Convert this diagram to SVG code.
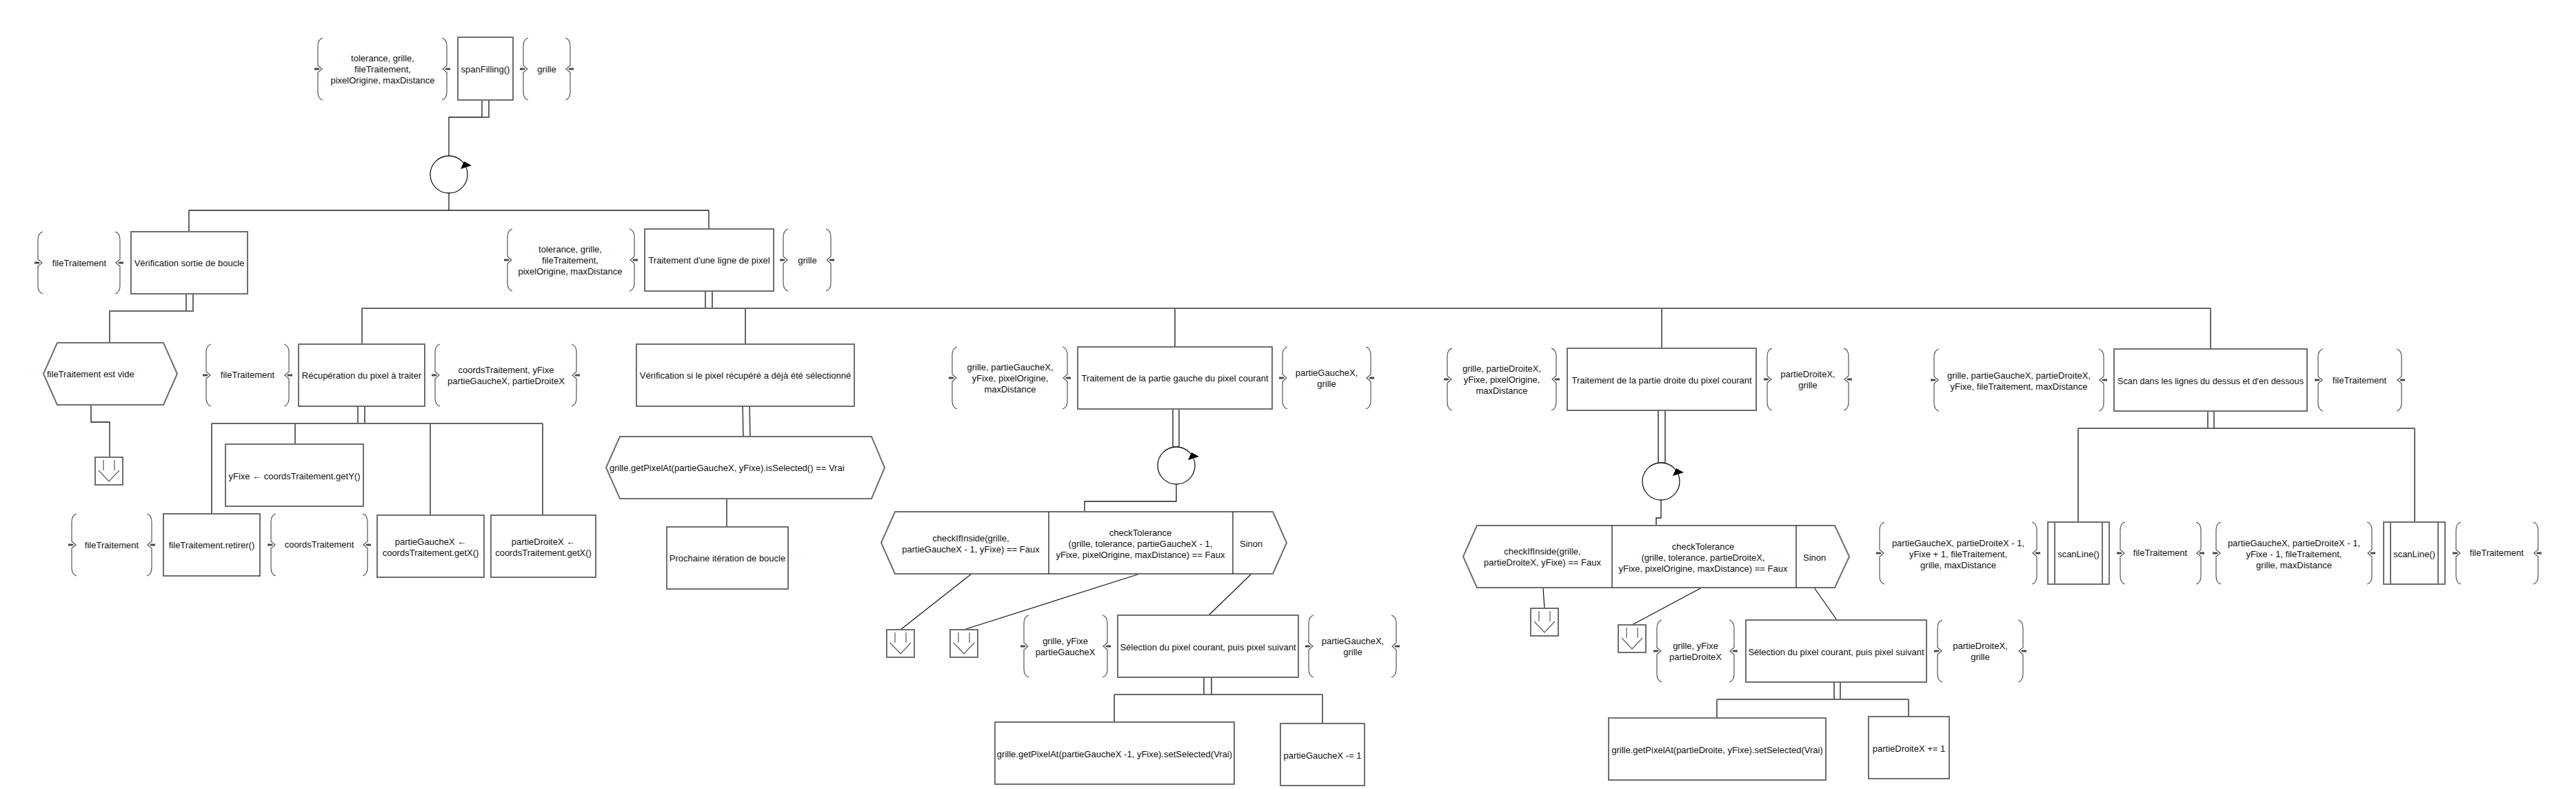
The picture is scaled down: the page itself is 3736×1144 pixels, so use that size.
<svg xmlns="http://www.w3.org/2000/svg" xmlns:xlink="http://www.w3.org/1999/xlink" width="3736" height="1144" viewBox="0 0 3736 1144">
<style>
.bg{fill:#fff}
.box{fill:#fff;stroke:#6e6e6e;stroke-width:2}
.conn{fill:none;stroke:#666;stroke-width:2}
.thin{fill:none;stroke:#1a1a1a;stroke-width:1.3}
.div{fill:none;stroke:#111;stroke-width:1.2}
.br{fill:none;stroke:#555;stroke-width:1.2}
.stub{fill:#4a4a4a}
.arr{fill:#000}
text{font-family:"Liberation Sans",Arial,sans-serif;font-size:13px;fill:#111}
.c{text-anchor:middle}
</style>
<defs>
<g id="bl"><path class="br" d="M7,0 Q0,2 0,12 L0,40 L6,45 L0,50 L0,78 Q0,88 7,90"/><path class="stub" d="M-5,43.6 L1,43.6 L3,45 L1,46.4 L-5,46.4 Z"/></g>
<g id="bri"><path class="br" d="M-7,0 Q0,2 0,12 L0,40 L-6,45 L0,50 L0,78 Q0,88 -7,90"/><path class="stub" d="M5,43.6 L-1,43.6 L-3,45 L-1,46.4 L5,46.4 Z"/></g>
<g id="term"><rect class="box" x="0" y="0" width="40" height="40"/><path class="conn" style="stroke-width:1.3" d="M12,4 V19 M28,4 V19 M5,19 L20,35 L35,19"/></g>
<g id="loopArr"><path class="arr" d="M17,-8 L33,-13 L22,-19 Z"/></g>
</defs>
<rect class="bg" x="0" y="0" width="3736" height="1144"/>

<g id="connectors">
<rect class="conn" x="699" y="145" width="10" height="25"/>
<path class="thin" d="M699,170 H651 V226"/>
<path class="thin" d="M651,280 V305 M274,305 H1028 M274,305 V336 M1028,305 V332"/>
<rect class="conn" x="270" y="426" width="10" height="25"/>
<path class="conn" d="M270,451 H159 V497"/>
<path class="thin" d="M132,587 V612 H159 V663"/>
<rect class="conn" x="1023" y="422" width="10" height="25"/>
<path class="conn" d="M525,447 H3206 M525,447 V499 M1081,447 V499 M1704,447 V503 M2410,447 V505 M3206,447 V506"/>
<rect class="conn" x="519" y="589" width="10" height="25"/>
<path class="conn" d="M307,614 H787 M307,614 V745 M428,614 V644 M624,614 V747 M787,614 V747"/>
<path class="conn" d="M1077,589 L1078,633 M1087,589 L1088,633"/>
<path class="thin" d="M1054,723 V764"/>
<rect class="conn" x="1701" y="593" width="9" height="55"/>
<path class="thin" d="M1706,702 V727 H1573 V742"/>
<path class="div" d="M1409,832 L1306,913 M1653,832 L1398,913 M1815,832 L1753,892"/>
<rect class="conn" x="1746" y="982" width="11" height="25"/>
<path class="conn" d="M1616,1007 H1918 M1616,1007 V1047 M1918,1007 V1049"/>
<rect class="conn" x="2405" y="595" width="10" height="76"/>
<path class="thin" d="M2409,725 V751 H2402 V762"/>
<path class="div" d="M2238,852 L2240,882 M2468,852 L2367,906 M2631,852 L2664,899"/>
<rect class="conn" x="2660" y="989" width="9" height="25"/>
<path class="conn" d="M2490,1014 H2768 M2490,1014 V1041 M2768,1014 V1039"/>
<rect class="conn" x="3202" y="596" width="9" height="25"/>
<path class="conn" d="M3014,621 H3502 M3014,621 V757 M3502,621 V757"/>
</g>

<g id="braces">
<use xlink:href="#bl" transform="translate(461,55)"/><use xlink:href="#bri" transform="translate(648,55)"/>
<text class="c" x="555" y="88.5">tolerance, grille,</text><text class="c" x="555" y="104.5">fileTraitement,</text><text class="c" x="555" y="120.5">pixelOrigine, maxDistance</text>
<use xlink:href="#bl" transform="translate(759,55)"/><use xlink:href="#bri" transform="translate(827,55)"/>
<text class="c" x="793" y="105">grille</text>
<use xlink:href="#bl" transform="translate(55,336)"/><use xlink:href="#bri" transform="translate(174,336)"/>
<text class="c" x="115" y="385.5">fileTraitement</text>
<use xlink:href="#bl" transform="translate(736,332)"/><use xlink:href="#bri" transform="translate(920,332)"/>
<text class="c" x="827" y="365.5">tolerance, grille,</text><text class="c" x="827" y="381.5">fileTraitement,</text><text class="c" x="827" y="397.5">pixelOrigine, maxDistance</text>
<use xlink:href="#bl" transform="translate(1136,332)"/><use xlink:href="#bri" transform="translate(1205,332)"/>
<text class="c" x="1171" y="381.5">grille</text>
<use xlink:href="#bl" transform="translate(299,499)"/><use xlink:href="#bri" transform="translate(419,499)"/>
<text class="c" x="359" y="547.5">fileTraitement</text>
<use xlink:href="#bl" transform="translate(631,499)"/><use xlink:href="#bri" transform="translate(836,499)"/>
<text class="c" x="734" y="540.5">coordsTraitement, yFixe</text><text class="c" x="734" y="556.5">partieGaucheX, partieDroiteX</text>
<use xlink:href="#bl" transform="translate(104,745)"/><use xlink:href="#bri" transform="translate(220,745)"/>
<text class="c" x="162" y="794.5">fileTraitement</text>
<use xlink:href="#bl" transform="translate(393,745)"/><use xlink:href="#bri" transform="translate(533,745)"/>
<text class="c" x="463" y="793.5">coordsTraitement</text>
<use xlink:href="#bl" transform="translate(1381,503)"/><use xlink:href="#bri" transform="translate(1548,503)"/>
<text class="c" x="1465" y="536.5">grille, partieGaucheX,</text><text class="c" x="1465" y="552.5">yFixe, pixelOrigine,</text><text class="c" x="1465" y="568.5">maxDistance</text>
<use xlink:href="#bl" transform="translate(1860,503)"/><use xlink:href="#bri" transform="translate(1988,503)"/>
<text class="c" x="1924" y="544.5">partieGaucheX,</text><text class="c" x="1924" y="560.5">grille</text>
<use xlink:href="#bl" transform="translate(1485,892)"/><use xlink:href="#bri" transform="translate(1606,892)"/>
<text class="c" x="1545" y="933.5">grille, yFixe</text><text class="c" x="1545" y="949.5">partieGaucheX</text>
<use xlink:href="#bl" transform="translate(1898,892)"/><use xlink:href="#bri" transform="translate(2025,892)"/>
<text class="c" x="1962" y="933.5">partieGaucheX,</text><text class="c" x="1962" y="949.5">grille</text>
<use xlink:href="#bl" transform="translate(2099,505)"/><use xlink:href="#bri" transform="translate(2257,505)"/>
<text class="c" x="2178" y="538.5">grille, partieDroiteX,</text><text class="c" x="2178" y="554.5">yFixe, pixelOrigine,</text><text class="c" x="2178" y="570.5">maxDistance</text>
<use xlink:href="#bl" transform="translate(2563,505)"/><use xlink:href="#bri" transform="translate(2681,505)"/>
<text class="c" x="2622" y="546.5">partieDroiteX,</text><text class="c" x="2622" y="562.5">grille</text>
<use xlink:href="#bl" transform="translate(2403,899)"/><use xlink:href="#bri" transform="translate(2515,899)"/>
<text class="c" x="2459" y="940.5">grille, yFixe</text><text class="c" x="2459" y="956.5">partieDroiteX</text>
<use xlink:href="#bl" transform="translate(2810,899)"/><use xlink:href="#bri" transform="translate(2934,899)"/>
<text class="c" x="2872" y="940.5">partieDroiteX,</text><text class="c" x="2872" y="956.5">grille</text>
<use xlink:href="#bl" transform="translate(2805,506)"/><use xlink:href="#bri" transform="translate(3051,506)"/>
<text class="c" x="2928" y="548.5">grille, partieGaucheX, partieDroiteX,</text><text class="c" x="2928" y="564.5">yFixe, fileTraitement, maxDistance</text>
<use xlink:href="#bl" transform="translate(3362,506)"/><use xlink:href="#bri" transform="translate(3483,506)"/>
<text class="c" x="3422" y="555.5">fileTraitement</text>
<use xlink:href="#bl" transform="translate(2726,757)"/><use xlink:href="#bri" transform="translate(2954,757)"/>
<text class="c" x="2840" y="791.5">partieGaucheX, partieDroiteX - 1,</text><text class="c" x="2840" y="807.5">yFixe + 1, fileTraitement,</text><text class="c" x="2840" y="823.5">grille, maxDistance</text>
<use xlink:href="#bl" transform="translate(3075,757)"/><use xlink:href="#bri" transform="translate(3192,757)"/>
<text class="c" x="3133" y="805.5">fileTraitement</text>
<use xlink:href="#bl" transform="translate(3214,757)"/><use xlink:href="#bri" transform="translate(3440,757)"/>
<text class="c" x="3327" y="791.5">partieGaucheX, partieDroiteX - 1,</text><text class="c" x="3327" y="807.5">yFixe - 1, fileTraitement,</text><text class="c" x="3327" y="823.5">grille, maxDistance</text>
<use xlink:href="#bl" transform="translate(3562,757)"/><use xlink:href="#bri" transform="translate(3681,757)"/>
<text class="c" x="3621" y="805.5">fileTraitement</text>
</g>

<g id="n-spanFilling"><rect class="box" x="664" y="54" width="80" height="91"/><text class="c" x="704" y="105">spanFilling()</text></g>
<g id="n-loop1"><circle class="thin" cx="651" cy="253" r="27" style="fill:#fff"/><use xlink:href="#loopArr" transform="translate(651,253)"/></g>
<g id="n-verifSortie"><rect class="box" x="190" y="336" width="169" height="90"/><text class="c" x="274.5" y="385.5">Vérification sortie de boucle</text></g>
<g id="n-vide"><path class="box" d="M83,497 H237 L257,542 L237,587 H83 L63,542 Z"/><text x="68" y="546.5">fileTraitement est vide</text></g>
<g id="n-term1"><use xlink:href="#term" transform="translate(138,663)"/></g>
<g id="n-ligne"><rect class="box" x="935" y="332" width="187" height="90"/><text class="c" x="1028.5" y="381.5">Traitement d'une ligne de pixel</text></g>
<g id="n-recup"><rect class="box" x="433" y="499" width="183" height="90"/><text class="c" x="524.5" y="548.5">Récupération du pixel à traiter</text></g>
<g id="n-yFixe"><rect class="box" x="327" y="644" width="200" height="90"/><text class="c" x="427" y="694.5">yFixe ← coordsTraitement.getY()</text></g>
<g id="n-retirer"><rect class="box" x="237" y="745" width="140" height="90"/><text class="c" x="307" y="794.5">fileTraitement.retirer()</text></g>
<g id="n-pgx"><rect class="box" x="547" y="747" width="155" height="90"/><text class="c" x="624.5" y="789.5">partieGaucheX ←</text><text class="c" x="624.5" y="805.5">coordsTraitement.getX()</text></g>
<g id="n-pdx"><rect class="box" x="712" y="747" width="152" height="90"/><text class="c" x="788" y="789.5">partieDroiteX ←</text><text class="c" x="788" y="805.5">coordsTraitement.getX()</text></g>
<g id="n-verifPixel"><rect class="box" x="923" y="499" width="316" height="90"/><text class="c" x="1081" y="548.5">Vérification si le pixel récupéré a déjà été sélectionné</text></g>
<g id="n-isSelected"><path class="box" d="M899,633 H1264 L1283,678 L1264,723 H899 L879,678 Z"/><text x="884" y="682.5">grille.getPixelAt(partieGaucheX, yFixe).isSelected() == Vrai</text></g>
<g id="n-prochaine"><rect class="box" x="967" y="764" width="176" height="90"/><text class="c" x="1055" y="813.5">Prochaine itération de boucle</text></g>
<g id="n-gauche"><rect class="box" x="1563" y="503" width="282" height="90"/><text class="c" x="1704" y="552.5">Traitement de la partie gauche du pixel courant</text></g>
<g id="n-loop2"><circle class="thin" cx="1706" cy="675" r="27" style="fill:#fff"/><use xlink:href="#loopArr" transform="translate(1706,675)"/></g>
<g id="n-switchG"><path class="box" d="M1298,742 H1846 L1866,787 L1846,832 H1298 L1278,787 Z"/><path class="div" d="M1521,742 V832 M1788,742 V832"/>
<text class="c" x="1408" y="784.5">checkIfInside(grille,</text><text class="c" x="1408" y="800.5">partieGaucheX - 1, yFixe) == Faux</text>
<text class="c" x="1654" y="776.5">checkTolerance</text><text class="c" x="1654" y="792.5">(grille, tolerance, partieGaucheX - 1,</text><text class="c" x="1654" y="808.5">yFixe, pixelOrigine, maxDistance) == Faux</text>
<text x="1798" y="792.5">Sinon</text></g>
<g id="n-term2"><use xlink:href="#term" transform="translate(1286,913)"/></g>
<g id="n-term3"><use xlink:href="#term" transform="translate(1378,913)"/></g>
<g id="n-selG"><rect class="box" x="1621" y="892" width="262" height="90"/><text class="c" x="1752" y="942.5">Sélection du pixel courant, puis pixel suivant</text></g>
<g id="n-setG"><rect class="box" x="1443" y="1047" width="347" height="90"/><text class="c" x="1616.5" y="1097.5">grille.getPixelAt(partieGaucheX -1, yFixe).setSelected(Vrai)</text></g>
<g id="n-decG"><rect class="box" x="1857" y="1049" width="122" height="90"/><text class="c" x="1918" y="1099.5">partieGaucheX -= 1</text></g>
<g id="n-droite"><rect class="box" x="2273" y="505" width="274" height="90"/><text class="c" x="2410" y="555.5">Traitement de la partie droite du pixel courant</text></g>
<g id="n-loop3"><circle class="thin" cx="2409" cy="698" r="27" style="fill:#fff"/><use xlink:href="#loopArr" transform="translate(2409,698)"/></g>
<g id="n-switchD"><path class="box" d="M2142,762 H2661 L2682,807 L2661,852 H2142 L2122,807 Z"/><path class="div" d="M2338,762 V852 M2605,762 V852"/>
<text class="c" x="2237" y="803.5">checkIfInside(grille,</text><text class="c" x="2237" y="819.5">partieDroiteX, yFixe) == Faux</text>
<text class="c" x="2470" y="796.5">checkTolerance</text><text class="c" x="2470" y="812.5">(grille, tolerance, partieDroiteX,</text><text class="c" x="2470" y="828.5">yFixe, pixelOrigine, maxDistance) == Faux</text>
<text x="2615" y="812.5">Sinon</text></g>
<g id="n-term4"><use xlink:href="#term" transform="translate(2220,882)"/></g>
<g id="n-term5"><use xlink:href="#term" transform="translate(2347,906)"/></g>
<g id="n-selD"><rect class="box" x="2532" y="899" width="262" height="90"/><text class="c" x="2663" y="949.5">Sélection du pixel courant, puis pixel suivant</text></g>
<g id="n-setD"><rect class="box" x="2333" y="1041" width="315" height="90"/><text class="c" x="2490.5" y="1091.5">grille.getPixelAt(partieDroite, yFixe).setSelected(Vrai)</text></g>
<g id="n-incD"><rect class="box" x="2710" y="1039" width="117" height="90"/><text class="c" x="2768.5" y="1089.5">partieDroiteX += 1</text></g>
<g id="n-scan"><rect class="box" x="3066" y="506" width="280" height="90"/><text class="c" x="3206" y="556.5" textLength="270" lengthAdjust="spacingAndGlyphs">Scan dans les lignes du dessus et d'en dessous</text></g>
<g id="n-scanLine1"><rect class="box" x="2970" y="757" width="89" height="90"/><path class="box" d="M2980,757 V847 M3049,757 V847"/><text class="c" x="3014.5" y="807.5">scanLine()</text></g>
<g id="n-scanLine2"><rect class="box" x="3457" y="757" width="89" height="90"/><path class="box" d="M3467,757 V847 M3536,757 V847"/><text class="c" x="3501.5" y="807.5">scanLine()</text></g>
</svg>
